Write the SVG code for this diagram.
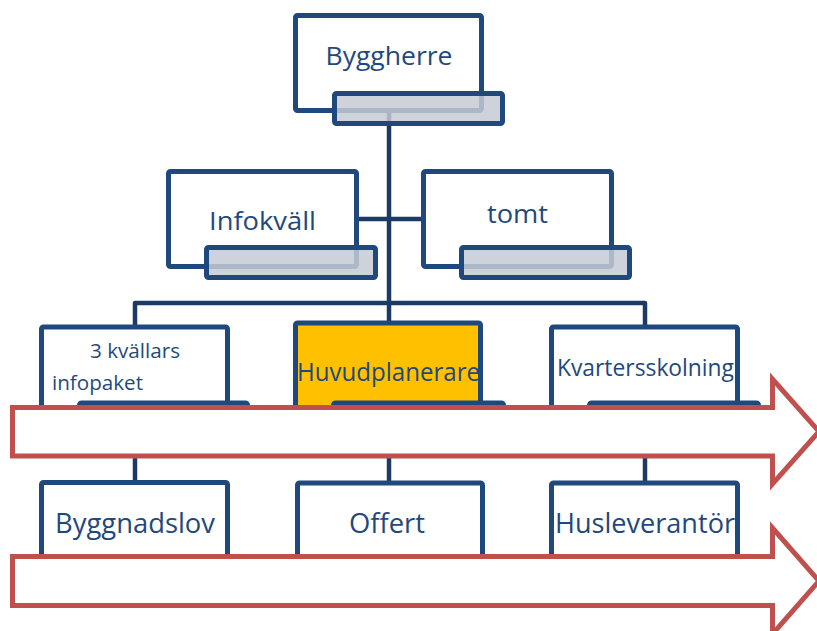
<svg xmlns="http://www.w3.org/2000/svg" width="817" height="631" viewBox="0 0 817 631">
<style>
.box{fill:#ffffff;stroke:#1f497d;stroke-width:5;stroke-linejoin:round}
.bar{fill:#c6cad5;fill-opacity:0.85;stroke:#1f497d;stroke-width:5;stroke-linejoin:round}
.con{fill:none;stroke:#1c3a66;stroke-width:4.5;stroke-linejoin:round}
.arrow{fill:#ffffff;stroke:#c0504d;stroke-width:5;stroke-linejoin:miter}
text{font-family:"Open Sans","Liberation Sans",sans-serif;fill:#1f497d;text-anchor:middle}
</style>
<rect width="817" height="631" fill="#ffffff"/>
<g id="connectors">
<path class="con" d="M389 113 V303"/>
<path class="con" d="M359 219 H421"/>
<path class="con" d="M135 325 V303 H645 V325"/>
<path class="con" d="M389 303 V321"/>
<path class="con" d="M135 420 V481"/>
<path class="con" d="M389 420 V481"/>
<path class="con" d="M645 420 V481"/>
</g>
<g id="byggherre">
<rect class="box" x="295.5" y="15.5" width="186" height="95" rx="2"/>
<rect class="bar" x="334.5" y="93.5" width="168" height="30" rx="2"/>
<text x="389" y="65" font-size="26" textLength="127" lengthAdjust="spacingAndGlyphs">Byggherre</text>
</g>
<g id="infokvall">
<rect class="box" x="168.5" y="171.5" width="188" height="95" rx="2"/>
<rect class="bar" x="206.5" y="247.5" width="169" height="30" rx="2"/>
<text x="262.5" y="230" font-size="26" textLength="107" lengthAdjust="spacingAndGlyphs">Infokväll</text>
</g>
<g id="tomt">
<rect class="box" x="423.5" y="171.5" width="188" height="95" rx="2"/>
<rect class="bar" x="461.5" y="247.5" width="168" height="30" rx="2"/>
<text x="517.5" y="223" font-size="26" textLength="61" lengthAdjust="spacingAndGlyphs">tomt</text>
</g>
<g id="kvallars">
<rect class="box" x="41.5" y="327" width="186" height="95" rx="2"/>
<rect class="bar" x="79.5" y="403" width="168" height="30" rx="2"/>
<text x="135" y="358" font-size="19.5" textLength="90" lengthAdjust="spacingAndGlyphs">3 kvällars</text>
<text x="97.5" y="390" font-size="19.5" textLength="91" lengthAdjust="spacingAndGlyphs">infopaket</text>
</g>
<g id="huvudplanerare">
<rect class="box" x="295.5" y="323" width="185" height="99" rx="2" style="fill:#ffc000"/>
<rect class="bar" x="333.5" y="403" width="170" height="30" rx="2"/>
<text x="388.5" y="381" font-size="25" textLength="183" lengthAdjust="spacingAndGlyphs">Huvudplanerare</text>
</g>
<g id="kvartersskolning">
<rect class="box" x="551.5" y="327" width="186" height="95" rx="2"/>
<rect class="bar" x="589.5" y="403" width="169" height="30" rx="2"/>
<text x="645.5" y="376" font-size="24" textLength="177" lengthAdjust="spacingAndGlyphs">Kvartersskolning</text>
</g>
<g id="byggnadslov">
<rect class="box" x="41.5" y="482.5" width="186" height="95" rx="2"/>
<text x="135" y="533" font-size="27" textLength="160" lengthAdjust="spacingAndGlyphs">Byggnadslov</text>
</g>
<g id="offert">
<rect class="box" x="297.5" y="483" width="185" height="95" rx="2"/>
<text x="387" y="533" font-size="27" textLength="76" lengthAdjust="spacingAndGlyphs">Offert</text>
</g>
<g id="husleverantor">
<rect class="box" x="551.5" y="483" width="186" height="95" rx="2"/>
<text x="645" y="533" font-size="27" textLength="180" lengthAdjust="spacingAndGlyphs">Husleverantör</text>
</g>
<g id="arrow1">
<path class="arrow" d="M12.5 407.5 H772.5 V379 L819 431.5 L772.5 484 V456 H12.5 Z"/>
</g>
<g id="arrow2">
<path class="arrow" d="M12.5 556.5 H772.5 V528 L819 581 L772.5 634 V605.5 H12.5 Z"/>
</g>
</svg>
